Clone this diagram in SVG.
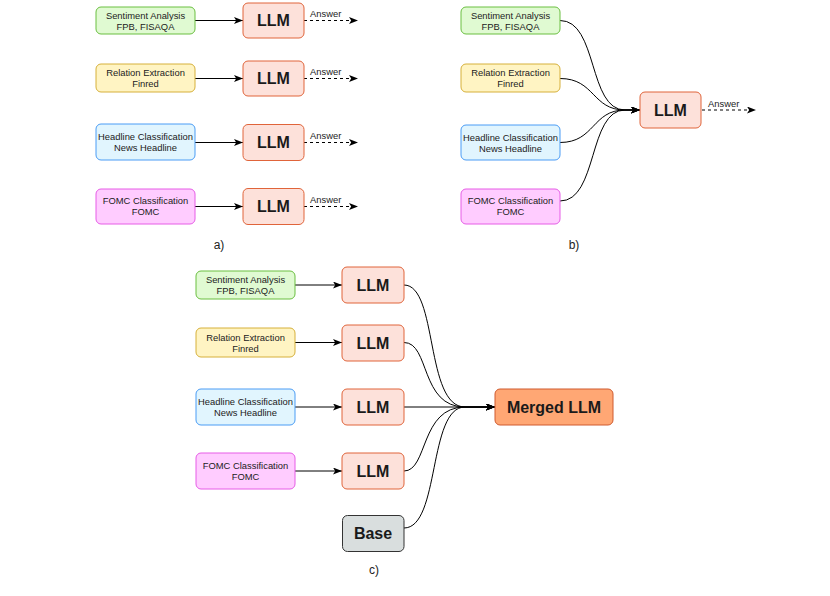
<svg xmlns="http://www.w3.org/2000/svg" width="830" height="596" viewBox="0 0 830 596">
<defs>
<marker id="arr" markerUnits="userSpaceOnUse" markerWidth="10" markerHeight="8" refX="9" refY="3.5" orient="auto">
<path d="M0,0 L9,3.5 L0,7 L2.2,3.5 z" fill="#000"/>
</marker>
</defs>
<style>
.t{font-family:"Liberation Sans",Arial,sans-serif;font-size:9.4px;fill:#222;text-anchor:middle}
.b{font-family:"Liberation Sans",Arial,sans-serif;font-size:16px;font-weight:bold;fill:#1a1a1a;text-anchor:middle}
.ans{font-family:"Liberation Sans",Arial,sans-serif;font-size:9.4px;fill:#222}
.cap{font-family:"Liberation Sans",Arial,sans-serif;font-size:12px;fill:#222;text-anchor:middle}
.g{fill:#e0fad2;stroke:#6abf40;stroke-width:1}
.y{fill:#fff4c3;stroke:#d6b03a;stroke-width:1}
.bl{fill:#e1f5fe;stroke:#4a9cf5;stroke-width:1}
.p{fill:#ffccff;stroke:#e65ce6;stroke-width:1}
.l{fill:#fde1da;stroke:#e0643a;stroke-width:1}
.m{fill:#ffa774;stroke:#cf5a2e;stroke-width:1}
.base{fill:#d9dede;stroke:#333;stroke-width:1}
.c{fill:none;stroke:#000;stroke-width:1;marker-end:url(#arr)}
.d{fill:none;stroke:#000;stroke-width:1;stroke-dasharray:3 3;marker-end:url(#arr)}
</style>
<g id="connectors">
<path class="c" d="M195,20.5 L243,20.5"/>
<path class="c" d="M195,78.5 L243,78.5"/>
<path class="c" d="M195,142.5 L243,142.5"/>
<path class="c" d="M195,206.5 L243,206.5"/>
<path class="d" d="M304,20.5 L358,20.5"/>
<path class="d" d="M304,78.5 L358,78.5"/>
<path class="d" d="M304,142.5 L358,142.5"/>
<path class="d" d="M304,206.5 L358,206.5"/>
<path class="c" d="M560,20.5 C598,20.5 588,110 625,110 L640,110"/>
<path class="c" d="M560,78.5 C595,78.5 592,110 625,110 L640,110"/>
<path class="c" d="M560,142.5 C595,142.5 592,110 625,110 L640,110"/>
<path class="c" d="M560,201 C598,201 588,110 625,110 L640,110"/>
<path class="d" d="M702,110 L756,110"/>
<path class="c" d="M295,285 L342,285"/>
<path class="c" d="M295,342.5 L342,342.5"/>
<path class="c" d="M295,407 L342,407"/>
<path class="c" d="M295,471 L342,471"/>
<path class="c" d="M404,285 C438,285 425,407 465,407 L495,407"/>
<path class="c" d="M404,342.5 C430,342.5 420,407 465,407 L495,407"/>
<path class="c" d="M404,407 L495,407"/>
<path class="c" d="M404,471 C428,471 420,407 465,407 L495,407"/>
<path class="c" d="M404,528 C440,528 428,407 465,407 L495,407"/>
</g>
<g id="a-sent"><rect class="g" x="96" y="7" width="99" height="27" rx="5"/><text class="t" x="145.5" y="18.5">Sentiment Analysis</text><text class="t" x="145.5" y="29.5">FPB, FISAQA</text></g>
<g id="a-rel"><rect class="y" x="96" y="64" width="99" height="28" rx="5"/><text class="t" x="145.5" y="76">Relation Extraction</text><text class="t" x="145.5" y="87">Finred</text></g>
<g id="a-head"><rect class="bl" x="96" y="124" width="99" height="36" rx="5"/><text class="t" x="145.5" y="140">Headline Classification</text><text class="t" x="145.5" y="151">News Headline</text></g>
<g id="a-fomc"><rect class="p" x="96" y="189" width="99" height="35" rx="5"/><text class="t" x="145.5" y="204">FOMC Classification</text><text class="t" x="145.5" y="215">FOMC</text></g>
<g id="a-llm1"><rect class="l" x="243" y="3" width="61" height="35" rx="5"/><text class="b" x="273.5" y="26.2">LLM</text></g>
<g id="a-llm2"><rect class="l" x="243" y="61" width="61" height="35" rx="5"/><text class="b" x="273.5" y="84.2">LLM</text></g>
<g id="a-llm3"><rect class="l" x="243" y="124.5" width="61" height="36" rx="5"/><text class="b" x="273.5" y="148.2">LLM</text></g>
<g id="a-llm4"><rect class="l" x="243" y="188.5" width="61" height="36" rx="5"/><text class="b" x="273.5" y="212.2">LLM</text></g>
<g id="a-ans"><text class="ans" x="310" y="17">Answer</text><text class="ans" x="310" y="75">Answer</text><text class="ans" x="310" y="139">Answer</text><text class="ans" x="310" y="203">Answer</text></g>
<text class="cap" x="219" y="249">a)</text>
<g id="b-sent"><rect class="g" x="461" y="7" width="99" height="27" rx="5"/><text class="t" x="510.5" y="18.5">Sentiment Analysis</text><text class="t" x="510.5" y="29.5">FPB, FISAQA</text></g>
<g id="b-rel"><rect class="y" x="461" y="64" width="99" height="28" rx="5"/><text class="t" x="510.5" y="76">Relation Extraction</text><text class="t" x="510.5" y="87">Finred</text></g>
<g id="b-head"><rect class="bl" x="461" y="125" width="99" height="35" rx="5"/><text class="t" x="510.5" y="140.5">Headline Classification</text><text class="t" x="510.5" y="151.5">News Headline</text></g>
<g id="b-fomc"><rect class="p" x="461" y="189" width="99" height="35" rx="5"/><text class="t" x="510.5" y="204">FOMC Classification</text><text class="t" x="510.5" y="215">FOMC</text></g>
<g id="b-llm"><rect class="l" x="640" y="92" width="61" height="36" rx="5"/><text class="b" x="670.5" y="115.7">LLM</text></g>
<text class="ans" x="708" y="106.5">Answer</text>
<text class="cap" x="574" y="249">b)</text>
<g id="c-sent"><rect class="g" x="196" y="271" width="99" height="28" rx="5"/><text class="t" x="245.5" y="283">Sentiment Analysis</text><text class="t" x="245.5" y="294">FPB, FISAQA</text></g>
<g id="c-rel"><rect class="y" x="196" y="328" width="99" height="29" rx="5"/><text class="t" x="245.5" y="340.5">Relation Extraction</text><text class="t" x="245.5" y="351.5">Finred</text></g>
<g id="c-head"><rect class="bl" x="196" y="389" width="99" height="36" rx="5"/><text class="t" x="245.5" y="405">Headline Classification</text><text class="t" x="245.5" y="416">News Headline</text></g>
<g id="c-fomc"><rect class="p" x="196" y="453" width="99" height="36" rx="5"/><text class="t" x="245.5" y="469">FOMC Classification</text><text class="t" x="245.5" y="480">FOMC</text></g>
<g id="c-llm1"><rect class="l" x="342" y="267" width="62" height="36" rx="5"/><text class="b" x="373" y="290.7">LLM</text></g>
<g id="c-llm2"><rect class="l" x="342" y="325" width="62" height="36" rx="5"/><text class="b" x="373" y="348.7">LLM</text></g>
<g id="c-llm3"><rect class="l" x="342" y="389" width="62" height="36" rx="5"/><text class="b" x="373" y="412.7">LLM</text></g>
<g id="c-llm4"><rect class="l" x="342" y="453" width="62" height="36" rx="5"/><text class="b" x="373" y="476.7">LLM</text></g>
<g id="c-base"><rect class="base" x="342.5" y="515.5" width="61.5" height="36" rx="5"/><text class="b" x="373" y="539.2">Base</text></g>
<g id="c-merged"><rect class="m" x="495" y="389" width="118" height="36" rx="5"/><text class="b" x="554" y="412.7">Merged LLM</text></g>
<text class="cap" x="374" y="574">c)</text>
</svg>
